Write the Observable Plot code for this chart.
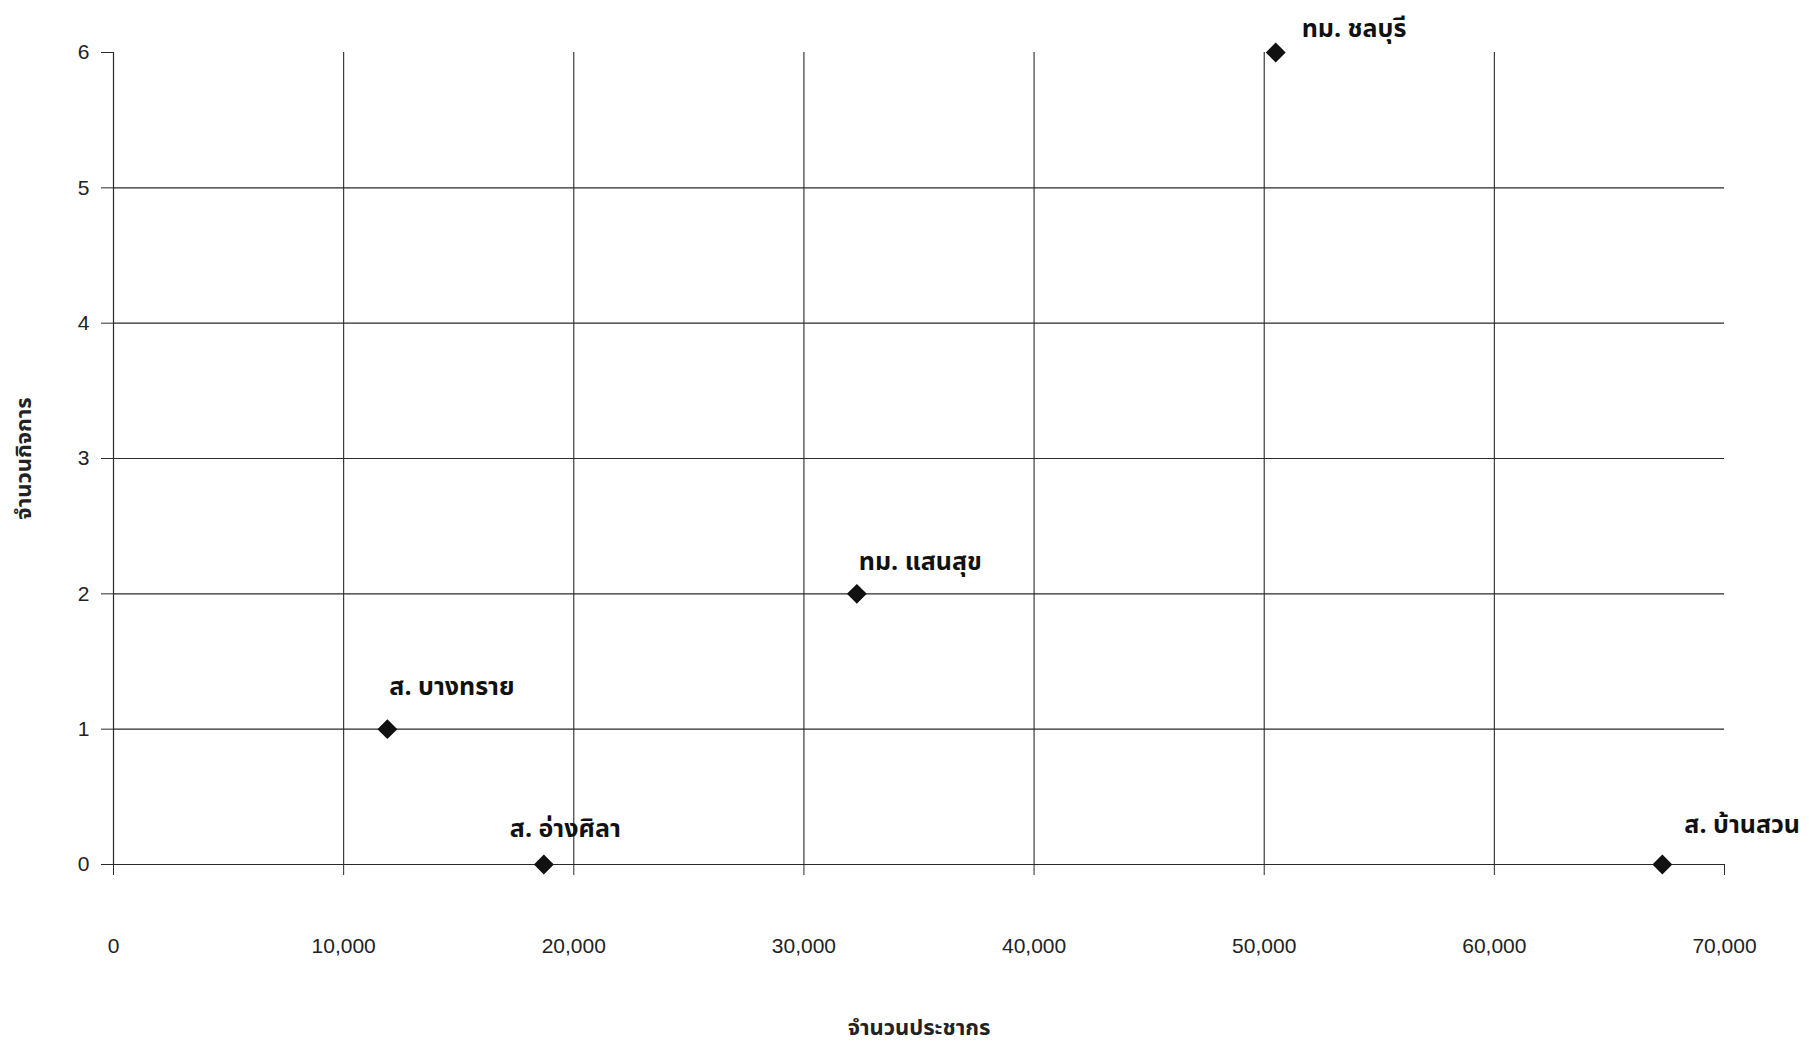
<!DOCTYPE html>
<html>
<head>
<meta charset="utf-8">
<script src="https://cdn.jsdelivr.net/npm/d3@7"></script>
<script src="https://cdn.jsdelivr.net/npm/@observablehq/plot@0.6"></script>
<style>
  html, body { margin: 0; padding: 0; background: #fff; }
  #chart { width: 1809px; height: 1044px; }
</style>
</head>
<body>
<div id="chart"></div>
<script>
const places = ["ส. บางทราย", "ส. อ่างศิลา", "ทม. แสนสุข", "ทม. ชลบุรี", "ส. บ้านสวน"];
const population = [11900, 18700, 32300, 50500, 67300];
const businesses = [1, 0, 2, 6, 0];
const xTicks = [0, 10000, 20000, 30000, 40000, 50000, 60000, 70000];
const yTicks = [0, 1, 2, 3, 4, 5, 6];
const xTitle = "จำนวนประชากร";
const yTitle = "จำนวนกิจการ";

const data = places.map((p, i) => ({place: p, x: population[i], y: businesses[i]}));
const fmt = d3.format(",");
const ink = "#2a2a2a";
const thaiFont = "'Noto Sans Thai', 'Noto Sans Thai Looped', 'Loma', 'Garuda', 'Tlwg Typo', 'DejaVu Sans', sans-serif";

function label(name, dx, dy) {
  return Plot.text(data.filter(d => d.place === name), {
    x: "x", y: "y", text: "place", dx, dy,
    textAnchor: "start", fontSize: 25, fontWeight: "bold",
    fontFamily: thaiFont, fill: "#111"
  });
}

const chart = Plot.plot({
  width: 1809,
  height: 1044,
  marginLeft: 113,
  marginRight: 85,
  marginTop: 52,
  marginBottom: 180,
  style: {background: "#fff", fontFamily: "'Liberation Sans', Arial, sans-serif"},
  x: {domain: [0, 70000]},
  y: {domain: [0, 6]},
  marks: [
    Plot.ruleY(yTicks.filter(t => t > 0 && t < 6), {stroke: ink, strokeWidth: 1.1}),
    Plot.ruleX(xTicks.filter(t => t > 0 && t < 70000), {y1: 0, y2: 6, stroke: ink, strokeWidth: 1.1}),
    Plot.ruleY([0], {stroke: ink, strokeWidth: 1.2}),
    Plot.ruleX([0], {y1: 0, y2: 6, stroke: ink, strokeWidth: 1.2}),
    Plot.axisX(xTicks, {
      tickSize: 11, tickPadding: 63, tickFormat: fmt,
      fontSize: 21, stroke: ink, fill: "#222", label: null
    }),
    Plot.axisY(yTicks, {
      tickSize: 12, tickPadding: 12, tickFormat: d => String(d),
      fontSize: 21, stroke: ink, fill: "#222", label: null
    }),
    Plot.dot(data, {x: "x", y: "y", symbol: "diamond2", r: 8, fill: "#111", stroke: "#111"}),
    label("ส. บางทราย", 2, -42),
    label("ส. อ่างศิลา", -34, -36),
    label("ทม. แสนสุข", 2, -32),
    label("ทม. ชลบุรี", 26, -24),
    label("ส. บ้านสวน", 22, -40),
    Plot.text([xTitle], {
      frameAnchor: "bottom", dy: 170, fontSize: 22, fontWeight: "bold",
      fontFamily: thaiFont, fill: "#222"
    }),
    Plot.text([yTitle], {
      frameAnchor: "left", textAnchor: "middle", dx: -90, rotate: -90, fontSize: 22, fontWeight: "bold",
      fontFamily: thaiFont, fill: "#222"
    })
  ]
});
document.getElementById("chart").appendChild(chart);
</script>
</body>
</html>
